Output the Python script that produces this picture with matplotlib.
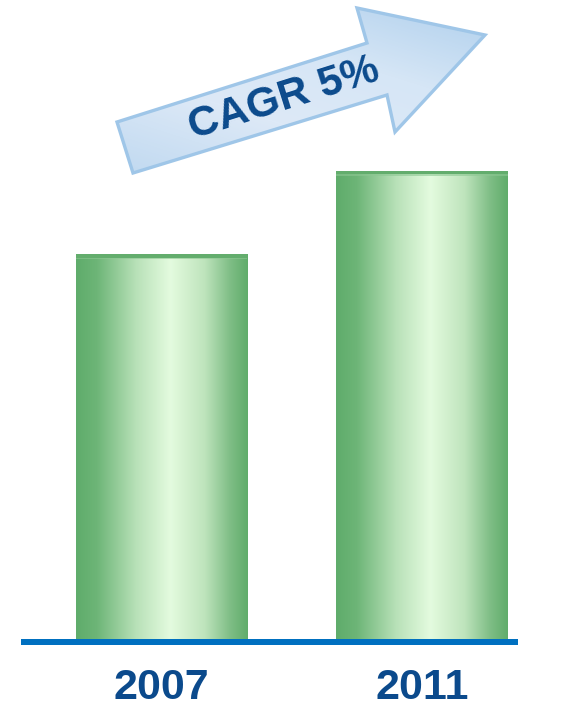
import numpy as np
import matplotlib
matplotlib.use("Agg")
import matplotlib.pyplot as plt
from matplotlib.patches import Polygon, Rectangle
from matplotlib.colors import LinearSegmentedColormap

# Data
years = ["2007", "2011"]
values = [100.0, 121.55]
cagr_label = "CAGR 5%"

W, H = 567, 708
PX_PER_UNIT = 3.86
fig = plt.figure(figsize=(W / 100, H / 100), dpi=100)
fig.patch.set_facecolor("white")

# Main axes in data units
ax = fig.add_axes([0, (H - 640) / H, 1, 640 / H])
ax.set_xlim(-161.5 / 260.5, (W - 161.5) / 260.5)
ax.set_ylim(0, 640 / PX_PER_UNIT)
ax.axis("off")

bar_width = 171.5 / 260.5
xs = np.arange(len(years))

green_cmap = LinearSegmentedColormap.from_list(
    "bar_green",
    [(0.0, "#5fac6b"), (0.12, "#6db577"), (0.35, "#b8e1b8"),
     (0.55, "#e4fbdf"), (0.75, "#bee4bc"), (0.9, "#7ebd85"), (1.0, "#60ad6b")],
)
grad = np.linspace(0, 1, 256).reshape(1, -1)

for x, v, label in zip(xs, values, years):
    left = x - bar_width / 2
    rect = Rectangle((left, 0), bar_width, v, facecolor="none", edgecolor="none")
    ax.add_patch(rect)
    im = ax.imshow(grad, cmap=green_cmap, aspect="auto",
                   extent=(left, left + bar_width, 0, v), zorder=2, interpolation="bilinear")
    im.set_clip_path(rect)
    # darker cap along the top edge
    cap_h = 3.5 / PX_PER_UNIT
    ax.add_patch(Rectangle((left, v - cap_h), bar_width, cap_h,
                           facecolor="#63ad6d", edgecolor="none", zorder=3))
    ax.add_patch(Rectangle((left, v - cap_h - 1.2 / PX_PER_UNIT), bar_width, 1.2 / PX_PER_UNIT,
                           facecolor="#8cc792", edgecolor="none", alpha=0.6, zorder=3))
    ax.text(x, -(699 - 640) / PX_PER_UNIT, label,
            ha="center", va="baseline", fontsize=31, fontweight="bold",
            color="#0b4a8c", family=["Liberation Sans", "DejaVu Sans"], clip_on=False)

ax.set_xlim(-161.5 / 260.5, (W - 161.5) / 260.5)
ax.set_ylim(0, 640 / PX_PER_UNIT)

# Baseline
ax.plot([(20.5 - 161.5) / 260.5, (518 - 161.5) / 260.5],
        [-2.2 / PX_PER_UNIT, -2.2 / PX_PER_UNIT],
        color="#0070c0", lw=6 * 0.72, solid_capstyle="butt", clip_on=False, zorder=4)

# Growth arrow overlay in pixel coordinates
ov = fig.add_axes([0, 0, 1, 1])
ov.set_xlim(0, W)
ov.set_ylim(H, 0)
ov.axis("off")
ov.patch.set_alpha(0)

pts = [(117, 122), (367, 43), (357, 8), (485, 35), (395, 132), (387, 95), (133, 173)]
arrow = Polygon(pts, closed=True, facecolor="none", edgecolor="#9fc6e8", lw=2.4, zorder=5,
                joinstyle="miter")
ov.add_patch(arrow)

blue_cmap = LinearSegmentedColormap.from_list(
    "arrow_blue", [(0.0, "#a9cceb"), (0.35, "#d6e6f6"), (0.6, "#dde9f7"), (1.0, "#b7d4ee")]
)
# gradient perpendicular to the arrow direction
ang = np.deg2rad(17.5)
yy, xx = np.mgrid[0:200, 0:420]
px = xx + 100
py = yy
u = -(px - 117) * np.sin(ang) + (py - 122) * np.cos(ang)
u = (u - u.min()) / (u.max() - u.min())
im2 = ov.imshow(u, cmap=blue_cmap, extent=(100, 520, 200, 0), zorder=4, aspect="auto",
                interpolation="bilinear")
fill_poly = Polygon(pts, closed=True, transform=ov.transData)
im2.set_clip_path(fill_poly)
ov.set_xlim(0, W)
ov.set_ylim(H, 0)

ov.text(284, 99, cagr_label, rotation=17.5, rotation_mode="anchor",
        ha="center", va="center", fontsize=30.5, fontweight="bold",
        color="#0b4a8c", family=["Liberation Sans", "DejaVu Sans"], zorder=6)

fig.savefig("out.png", dpi=100, facecolor="white")
